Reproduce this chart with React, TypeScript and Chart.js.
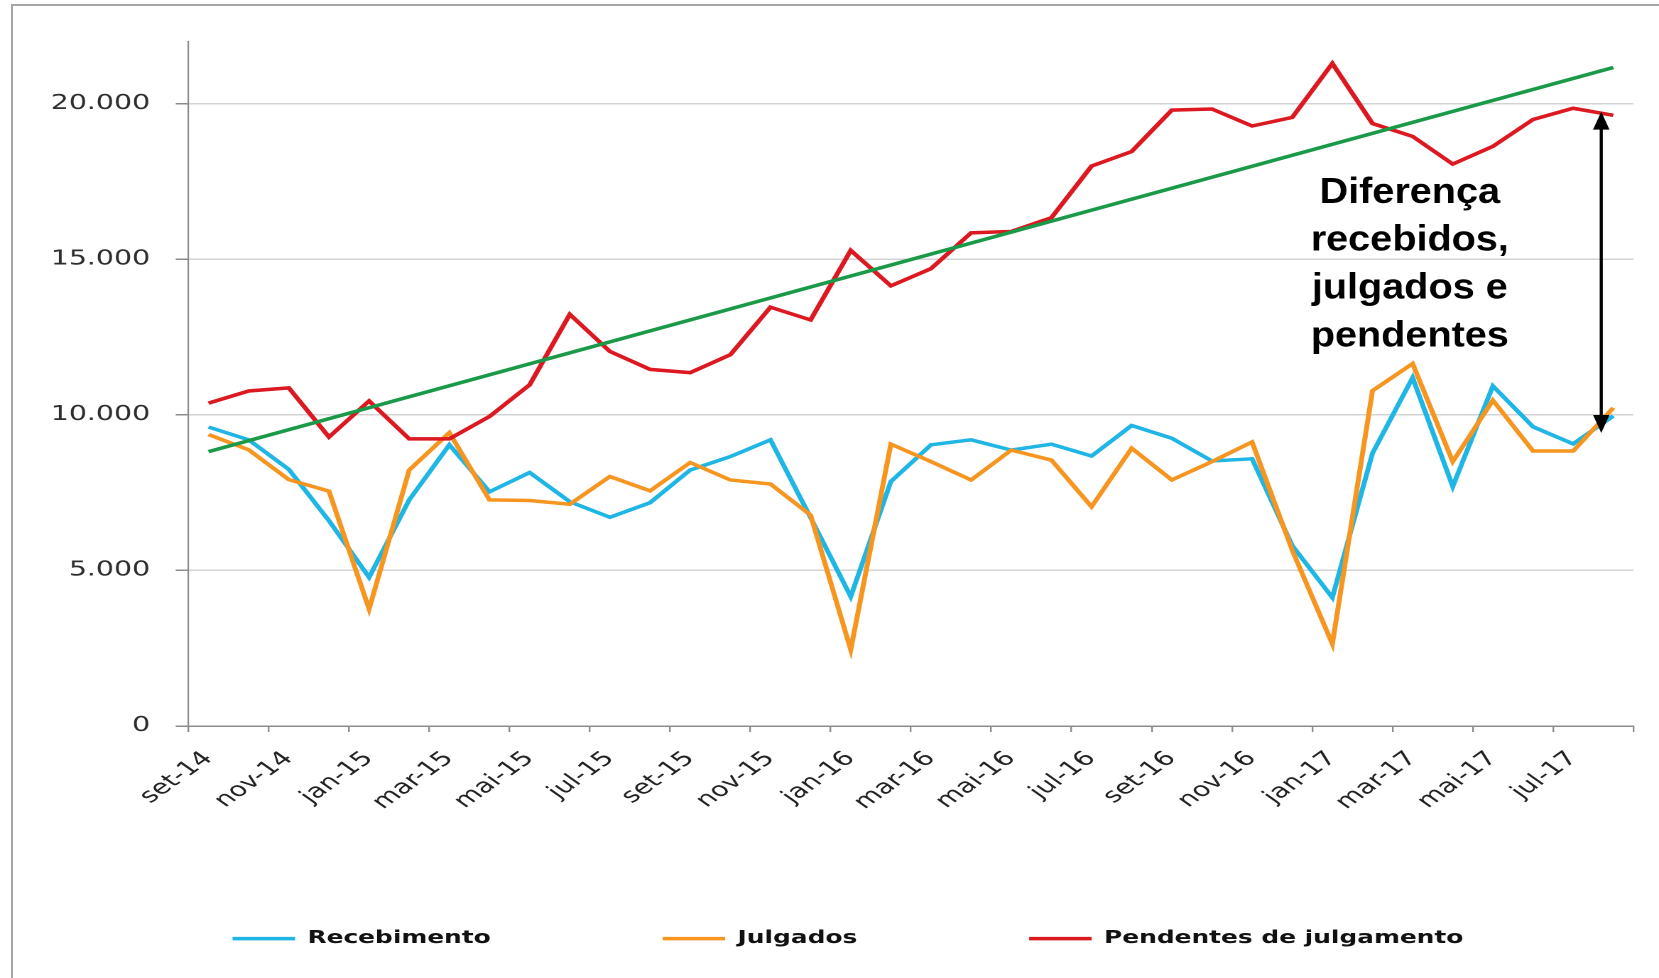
import React, { useEffect, useRef } from 'react';
import { Chart, registerables } from 'chart.js';

Chart.register(...registerables);

// ---------- data ----------
const MONTHS = [
  'set-14', 'out-14', 'nov-14', 'dez-14',
  'jan-15', 'fev-15', 'mar-15', 'abr-15', 'mai-15', 'jun-15', 'jul-15', 'ago-15', 'set-15', 'out-15', 'nov-15', 'dez-15',
  'jan-16', 'fev-16', 'mar-16', 'abr-16', 'mai-16', 'jun-16', 'jul-16', 'ago-16', 'set-16', 'out-16', 'nov-16', 'dez-16',
  'jan-17', 'fev-17', 'mar-17', 'abr-17', 'mai-17', 'jun-17', 'jul-17', 'ago-17',
];

const RECEBIMENTO = [
  9610, 9200, 8250, 6600, 4780, 7270, 9040, 7530, 8150, 7210, 6710, 7180, 8230, 8660, 9200, 6700,
  4160, 7860, 9040, 9200, 8870, 9060, 8680, 9660, 9250, 8520, 8590, 5800,
  4130, 8770, 11200, 7700, 10930, 9620, 9070, 9970,
];

const JULGADOS = [
  9370, 8880, 7920, 7550, 3760, 8230, 9430, 7270, 7250, 7130, 8020, 7560, 8470, 7910, 7780, 6780,
  2450, 9060, 8500, 7910, 8870, 8550, 7050, 8930, 7910, 8500, 9130, 5650,
  2640, 10780, 11650, 8500, 10470, 8840, 8840, 10230,
];

const PENDENTES = [
  10380, 10770, 10870, 9290, 10450, 9230, 9230, 9950, 10970, 13235, 12040, 11465, 11360, 11935, 13465, 13055,
  15290, 14150, 14705, 15855, 15900, 16340, 18000, 18470, 19800, 19835, 19290, 19565,
  21300, 19370, 18955, 18065, 18635, 19500, 19860, 19635,
];

// linear trend line of "Pendentes" (first and last value)
const TREND_ENDS = [8820, 21170];

const Y_MAX = 22000;
const Y_TICKS = [0, 5000, 10000, 15000, 20000];

const ANNOTATION_LINES = ['Diferença', 'recebidos,', 'julgados e', 'pendentes'];
const ARROW_VALUES = [19750, 9420];

// ---------- layout / style ----------
const W = 1659;
const H = 978;
const W0 = 1168; // chart drawn narrower, then stretched horizontally like the reference
const S = W / W0;

const BLUE = '#1fb5e4';
const ORANGE = '#f6951f';
const RED = '#dc1820';
const GREEN = '#1a9a48';
const AXIS = '#8c8c8c';
const FONT = 'DejaVu Sans';

const fmt = (v: number) => String(v).replace(/\B(?=(\d{3})+(?!\d))/g, '.');

const annotationPlugin = {
  id: 'diffAnnotation',
  afterDatasetsDraw(chart: any) {
    const { ctx, scales } = chart;
    const xs = scales.x;
    const ys = scales.y;
    const at = (pos: number) => {
      const i = Math.floor(pos);
      const a = xs.getPixelForValue(i);
      const b = xs.getPixelForValue(i + 1);
      return a + (b - a) * (pos - i);
    };
    // arrow
    const ax = at(34.7);
    const yTop = ys.getPixelForValue(ARROW_VALUES[0]);
    const yBot = ys.getPixelForValue(ARROW_VALUES[1]);
    const headL = 18;
    const headW = 5.8;
    ctx.save();
    ctx.strokeStyle = '#000';
    ctx.fillStyle = '#000';
    ctx.lineWidth = 2.2;
    ctx.beginPath();
    ctx.moveTo(ax, yTop + headL - 2);
    ctx.lineTo(ax, yBot - headL + 2);
    ctx.stroke();
    ctx.beginPath();
    ctx.moveTo(ax, yTop);
    ctx.lineTo(ax - headW, yTop + headL);
    ctx.lineTo(ax + headW, yTop + headL);
    ctx.closePath();
    ctx.fill();
    ctx.beginPath();
    ctx.moveTo(ax, yBot);
    ctx.lineTo(ax - headW, yBot - headL);
    ctx.lineTo(ax + headW, yBot - headL);
    ctx.closePath();
    ctx.fill();
    // text
    const tx = at(29.93);
    const ty = ys.getPixelForValue(16817);
    ctx.translate(tx, ty);
    ctx.scale(1.1 / S, 1);
    ctx.font = 'bold 36px "Liberation Sans", Arial, sans-serif';
    ctx.textAlign = 'center';
    ctx.textBaseline = 'alphabetic';
    ANNOTATION_LINES.forEach((line, i) => ctx.fillText(line, 0, i * 47.8));
    ctx.restore();
  },
};

export default function App() {
  const ref = useRef<HTMLCanvasElement>(null);

  useEffect(() => {
    const canvas = ref.current;
    if (!canvas) return;
    const legendFont = { family: FONT, size: 17.5, weight: 'bold' as const };
    const LEG_PAD = 121;
    const legendH = legendFont.size + LEG_PAD + 10;
    const textCenterOffset = LEG_PAD + legendFont.size / 2;
    const padBottom = H - 938.6 - (legendH - textCenterOffset);
    const xAxisH = (H - 726) - legendH - padBottom;

    const line = (label: string, data: any, color: string, order: number) => ({
      label,
      data,
      borderColor: color,
      backgroundColor: color,
      borderWidth: 3.5,
      pointRadius: 0,
      pointHoverRadius: 0,
      tension: 0,
      fill: false,
      order,
      yAxisID: 'y',
    });
    const chart = new Chart(canvas, {
      type: 'line',
      data: {
        labels: MONTHS,
        datasets: [
          line('Recebimento', RECEBIMENTO, BLUE, 3),
          line('Julgados', JULGADOS, ORANGE, 2),
          line('Pendentes de julgamento', PENDENTES, RED, 1),
          line('Tendência', [
            { x: MONTHS[0], y: TREND_ENDS[0] },
            { x: MONTHS[MONTHS.length - 1], y: TREND_ENDS[1] },
          ], GREEN, 0),
        ],
      },
      options: {
        responsive: false,
        animation: false,
        devicePixelRatio: 2,
        layout: { padding: { left: 26, right: 0, top: 41.7, bottom: padBottom } },
        plugins: {
          tooltip: { enabled: false },
          legend: {
            position: 'bottom',
            align: 'center',
            labels: {
              filter: (item: any) => item.datasetIndex !== 3,
              sort: (a: any, b: any) => a.datasetIndex - b.datasetIndex,
              usePointStyle: true,
              pointStyle: 'line',
              pointStyleWidth: 44,
              padding: LEG_PAD,
              color: '#111',
              font: legendFont,
            },
          },
        },
        scales: {
          x: {
            type: 'category',
            offset: true,
            grid: {
              display: true,
              offset: true,
              drawOnChartArea: false,
              drawTicks: true,
              tickLength: 6,
              lineWidth: 1.2,
              color: (c: any) => (c.index === undefined || c.index % 2 === 0 ? AXIS : 'rgba(0,0,0,0)'),
            },
            border: { display: true, color: AXIS, width: 1.5 },
            ticks: {
              autoSkip: false,
              minRotation: 45,
              maxRotation: 45,
              padding: 15,
              color: '#222',
              font: { family: FONT, size: 20 },
              callback: (_v: any, i: number) => (i % 2 === 0 ? MONTHS[i] : ''),
            },
            afterFit: (s: any) => { s.height = xAxisH; },
          },
          y: {
            min: 0,
            max: Y_MAX,
            grid: {
              color: '#d3d3d3',
              lineWidth: 1.5,
              tickColor: AXIS,
              tickLength: 9,
              drawTicks: true,
            },
            border: { display: true, color: AXIS, width: 1.1 },
            ticks: {
              padding: 18,
              color: '#2e2e2e',
              font: { family: FONT, size: 20 },
              callback: (v: any) => fmt(Number(v)),
            },
            afterBuildTicks: (s: any) => { s.ticks = Y_TICKS.map((v) => ({ value: v })); },
            afterFit: (s: any) => { s.width = 106.7; },
          },
          yR: {
            type: 'linear',
            position: 'right',
            display: true,
            grid: { display: false, drawTicks: false },
            border: { display: false },
            ticks: { display: false },
            afterFit: (s: any) => { s.width = 15.5; },
          },
        },
      },
      plugins: [annotationPlugin],
    } as any);
    return () => chart.destroy();
  }, []);

  return (
    <div style={{ position: 'fixed', left: 0, top: 0, width: W, height: H, overflow: 'hidden', background: '#fff' }}>
      <div
        style={{
          position: 'absolute', left: 11, top: 4, width: 1800, height: 1200,
          border: '2px solid #a6a6a6', boxSizing: 'border-box',
        }}
      />
      <div style={{ position: 'absolute', left: 0, top: 0, width: W0, height: H, transform: `scaleX(${S})`, transformOrigin: '0 0' }}>
        <canvas ref={ref} width={W0} height={H} style={{ display: 'block' }} />
      </div>
    </div>
  );
}
